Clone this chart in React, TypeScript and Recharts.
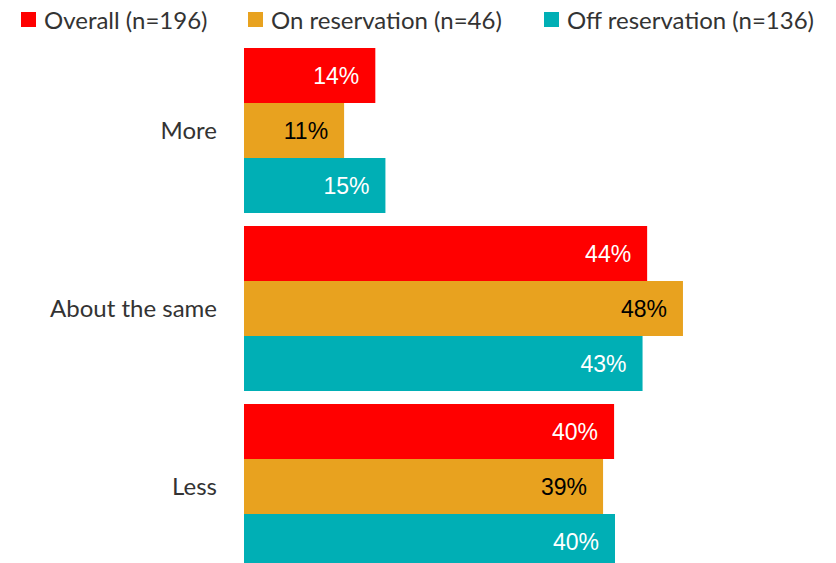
import { BarChart, Bar, XAxis, YAxis, LabelList } from 'recharts'

const categories = ['More', 'About the same', 'Less']
// shares in percent (labels show them rounded)
const overall = [14.3, 43.9, 40.3]
const onReservation = [10.9, 47.8, 39.1]
const offReservation = [15.4, 43.4, 40.4]

const series = [
    { key: 'overall', name: 'Overall (n=196)', color: '#FF0000', label: '#FFFFFF', values: overall },
    { key: 'on', name: 'On reservation (n=46)', color: '#E8A21F', label: '#000000', values: onReservation },
    { key: 'off', name: 'Off reservation (n=136)', color: '#00AFB5', label: '#FFFFFF', values: offReservation },
]

// left edge of each legend swatch
const legendX = [13, 240, 536]

const data = categories.map((c, i) => {
    const row: any = { cat: c }
    series.forEach(s => { row[s.key] = s.values[i] })
    return row
})

const font = 'Lato, "Gill Sans", sans-serif'

export default function App() {
    return (
        <div style={{ width: 828 }}>
            <div style={{ position: 'relative', height: 26, fontFamily: font, fontSize: 24, color: '#333' }}>
                {series.map((s, i) => (
                    <div
                        key={s.key}
                        style={{ position: 'absolute', left: legendX[i], top: -2, height: 26, display: 'flex', alignItems: 'center', whiteSpace: 'nowrap' }}
                    >
                        <span style={{ width: 15, height: 15, background: s.color, marginRight: 8, flexShrink: 0 }} />
                        <span>{s.name}</span>
                    </div>
                ))}
            </div>

            <BarChart
                width={828}
                height={541}
                data={data}
                layout="vertical"
                margin={{ top: 7, right: 41, bottom: 0, left: 0 }}
                barCategoryGap={7}
                barGap={0}
            >
                <XAxis type="number" domain={[0, 60]} hide />
                <YAxis
                    type="category"
                    dataKey="cat"
                    width={236}
                    axisLine={false}
                    tickLine={false}
                    tickSize={0}
                    tickMargin={27}
                    tick={{ fill: '#333', fontSize: 24, fontFamily: font }}
                />
                {series.map(s => (
                    <Bar key={s.key} dataKey={s.key} fill={s.color} isAnimationActive={false}>
                        <LabelList
                            dataKey={s.key}
                            position="insideRight"
                            offset={16}
                            formatter={(v: any) => `${Math.round(v)}%`}
                            style={{ fill: s.label, fontSize: 23, fontFamily: '"Liberation Sans", Arial, sans-serif' }}
                        />
                    </Bar>
                ))}
            </BarChart>
        </div>
    )
}
